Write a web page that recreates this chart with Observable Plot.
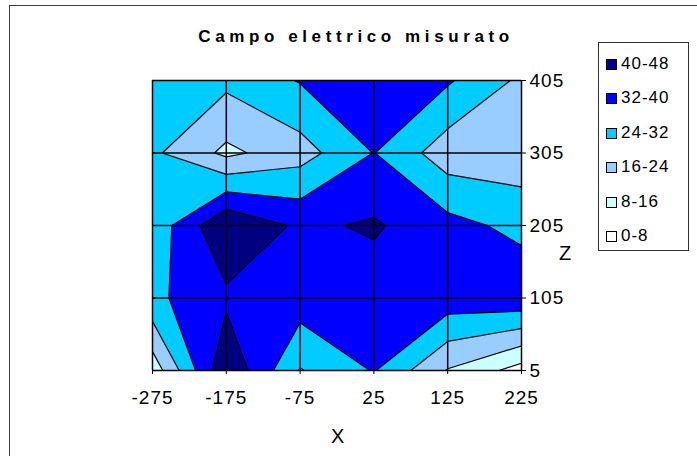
<!DOCTYPE html>
<html><head><meta charset="utf-8">
<script src="https://cdn.jsdelivr.net/npm/d3@7"></script>
<script src="https://cdn.jsdelivr.net/npm/@observablehq/plot@0.6"></script>
<style>
body{margin:0;background:#fff;}
#wrap{position:relative;width:697px;height:456px;overflow:hidden;font-family:"Liberation Sans",Arial,sans-serif;color:#000;}
#wrap svg{position:absolute;left:0;top:0;}
.frame{position:absolute;left:9px;top:5px;width:800px;height:600px;border-left:1.5px solid #404040;border-top:1.5px solid #404040;}
.title{position:absolute;left:150px;width:412px;top:27px;text-align:center;font-weight:bold;font-size:17px;letter-spacing:4.6px;white-space:nowrap;}
.axlab{position:absolute;font-size:20px;}
.legend{position:absolute;left:598px;top:42px;width:91px;height:209px;border:1.5px solid #303030;box-sizing:border-box;}
.legend .item{position:absolute;left:7px;height:20px;font-size:17px;letter-spacing:1px;white-space:nowrap;}
.legend .sw{position:absolute;left:0;top:4px;width:9px;height:9px;border:1px solid #000;}
.legend .lb{position:absolute;left:15px;top:-1px;}
</style></head><body><div id="wrap"></div>
<script>
const xValues = [-275, -175, -75, 25, 125, 225];
const zValues = [405, 305, 205, 105, 5];
// measured field, one row per z (top to bottom), one value per x
const field405 = [28, 26, 32.5, 36, 33, 22.4];
const field305 = [25.5, 14.2, 20.6, 32.2, 19.5, 19];
const field205 = [26.5, 47.5, 38.5, 41, 34.7, 29.7];
const field105 = [30.2, 38.3, 36.4, 36, 36.7, 38];
const field5 = [11, 47, 23.5, 32.5, 15.5, 4.7];
const thresholds = [0, 8, 16, 24, 32, 40, 48];
const bandLabels = ["0-8", "8-16", "16-24", "24-32", "32-40", "40-48"];
const bandColors = ["#FFFFFF", "#CCFFFF", "#99CCFF", "#00CCFF", "#0000FF", "#000080"];

const values = [...field405, ...field305, ...field205, ...field105, ...field5];
const stepX = xValues[1] - xValues[0];
const stepZ = zValues[0] - zValues[1];

const chart = Plot.plot({
  width: 697, height: 456,
  marginLeft: 152, marginRight: 176, marginTop: 80, marginBottom: 86,
  style: {fontFamily: "Liberation Sans, Arial, sans-serif", fontSize: "19px", color: "#000", letterSpacing: "1px", background: "transparent"},
  x: {domain: [xValues[0], xValues[xValues.length - 1]], label: null},
  y: {domain: [zValues[zValues.length - 1], zValues[0]], label: null},
  color: {type: "ordinal", domain: thresholds, range: [...bandColors, bandColors[bandColors.length - 1]]},
  marks: [
    Plot.contour(values, {
      width: xValues.length, height: zValues.length,
      x1: xValues[0] - stepX / 2, x2: xValues[xValues.length - 1] + stepX / 2,
      y1: zValues[0] + stepZ / 2, y2: zValues[zValues.length - 1] - stepZ / 2,
      thresholds, fill: Plot.identity, stroke: "#000", strokeWidth: 1.2, clip: true
    }),
    Plot.gridX(xValues, {stroke: "#000", strokeOpacity: 1, strokeWidth: 1.5}),
    Plot.gridY(zValues, {stroke: "#000", strokeOpacity: 1, strokeWidth: 1.5}),
    Plot.axisX(xValues, {tickSize: 4, tickPadding: 16, tickFormat: d => String(d), label: null, stroke: "#000"}),
    Plot.axisY(zValues, {anchor: "right", tickSize: 4, tickPadding: 4, tickFormat: d => String(d), label: null, stroke: "#000"})
  ]
});

const wrap = document.getElementById("wrap");
const frame = document.createElement("div"); frame.className = "frame"; wrap.appendChild(frame);
wrap.appendChild(chart);
const title = document.createElement("div"); title.className = "title"; title.textContent = "Campo elettrico misurato"; wrap.appendChild(title);
const xl = document.createElement("div"); xl.className = "axlab"; xl.textContent = "X"; xl.style.left = "331px"; xl.style.top = "425px"; wrap.appendChild(xl);
const zl = document.createElement("div"); zl.className = "axlab"; zl.textContent = "Z"; zl.style.left = "559px"; zl.style.top = "242px"; wrap.appendChild(zl);
const legend = document.createElement("div"); legend.className = "legend"; wrap.appendChild(legend);
const order = bandLabels.map((l, i) => i).reverse();
order.forEach((bi, k) => {
  const it = document.createElement("div"); it.className = "item"; it.style.top = (12 + k * 34.4) + "px";
  const sw = document.createElement("div"); sw.className = "sw"; sw.style.background = bandColors[bi];
  const lb = document.createElement("div"); lb.className = "lb"; lb.textContent = bandLabels[bi];
  it.appendChild(sw); it.appendChild(lb); legend.appendChild(it);
});
</script></body></html>
